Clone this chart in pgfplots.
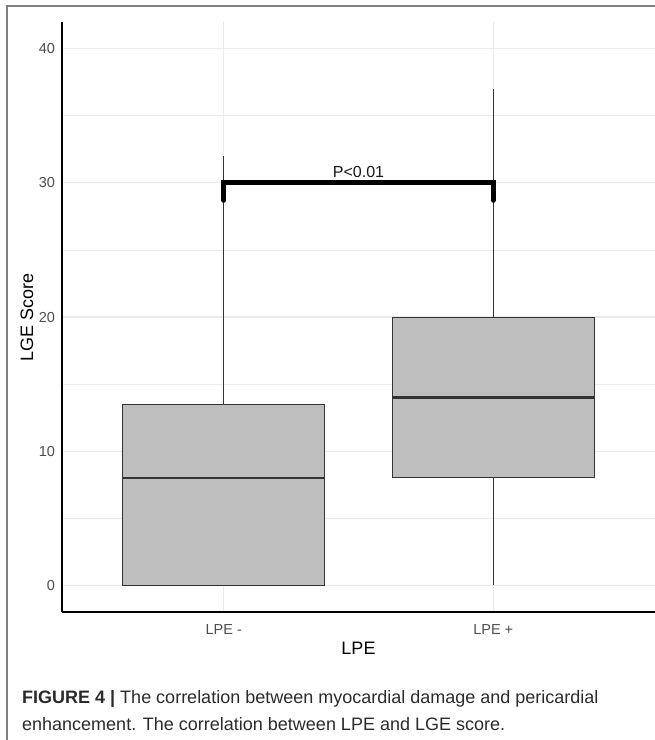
\documentclass[border=0pt]{standalone}
\usepackage{fontspec}
\setmainfont{Liberation Sans}
\usepackage{pgfplots}
\pgfplotsset{compat=1.18}
\usepgfplotslibrary{statistics}
\definecolor{boxfill}{HTML}{BEBEBE}
\definecolor{boxline}{HTML}{333333}
\definecolor{gridc}{HTML}{EBEBEB}
\definecolor{ticklab}{HTML}{4D4D4D}
\definecolor{framec}{HTML}{808080}
\definecolor{captext}{HTML}{2B2B2B}
\begin{document}
\begin{tikzpicture}
\useasboundingbox (0pt,0pt) rectangle (655pt,-740pt);
\draw[framec, line width=1.5pt] (7pt,-740pt) -- (7pt,-6pt) -- (655pt,-6pt);
\begin{axis}[
  at={(62pt,-612pt)}, anchor=south west,
  scale only axis, width=593pt, height=590pt,
  xmin=0.4, xmax=2.6, ymin=-2, ymax=42,
  boxplot/draw direction=y,
  axis x line*=bottom, axis y line*=left,
  axis line style={line width=2pt, black, -},
  xtick={1,2}, xticklabels={LPE -, LPE +},
  ytick={0,10,20,30,40}, minor ytick={5,15,25,35},
  major tick length=0pt, minor tick length=0pt,
  grid=both,
  major grid style={gridc, line width=1.1pt},
  minor grid style={gridc, line width=0.8pt},
  tick label style={font=\fontsize{14.5}{16}\selectfont, text=ticklab},
  /pgf/number format/assume math mode=true,
  xticklabel style={anchor=center, yshift=-18pt},
  yticklabel style={anchor=east, xshift=-3.5pt},
  xlabel={LPE}, ylabel={LGE Score},
  label style={font=\fontsize{18}{20}\selectfont},
  xlabel style={at={(axis description cs:0.5,-0.061)}, anchor=center},
  ylabel style={at={(axis description cs:-0.059,0.5)}, anchor=center},
  clip=false,
]
\addplot[boxplot prepared={draw position=1, lower whisker=0, lower quartile=0,
    median=8, upper quartile=13.5, upper whisker=32, box extend=0.75, whisker extend=0},
  fill=boxfill, draw=boxline, line width=1pt,
  boxplot/every median/.style={line width=2.2pt}] coordinates {};
\addplot[boxplot prepared={draw position=2, lower whisker=0, lower quartile=8,
    median=14, upper quartile=20, upper whisker=37, box extend=0.75, whisker extend=0},
  fill=boxfill, draw=boxline, line width=1pt,
  boxplot/every median/.style={line width=2.2pt}] coordinates {};
\addplot[black, line width=5pt, line cap=round, line join=miter] coordinates {(1,28.7) (1,30) (2,30) (2,28.7)};
\node[anchor=base, font=\fontsize{16}{18}\selectfont, text=black!90, inner sep=0pt] at (axis cs:1.5,30) [yshift=5.7pt] {P<0.01};
\end{axis}
\node[anchor=base west, inner sep=0pt, text=captext, font=\fontsize{18}{22}\selectfont] at (22pt,-703pt) {\textbf{FIGURE 4 |} The correlation between myocardial damage and pericardial};
\node[anchor=base west, inner sep=0pt, text=captext, font=\fontsize{18}{22}\selectfont] at (22pt,-730pt) {enhancement. The correlation between LPE and LGE score.};
\end{tikzpicture}
\end{document}
